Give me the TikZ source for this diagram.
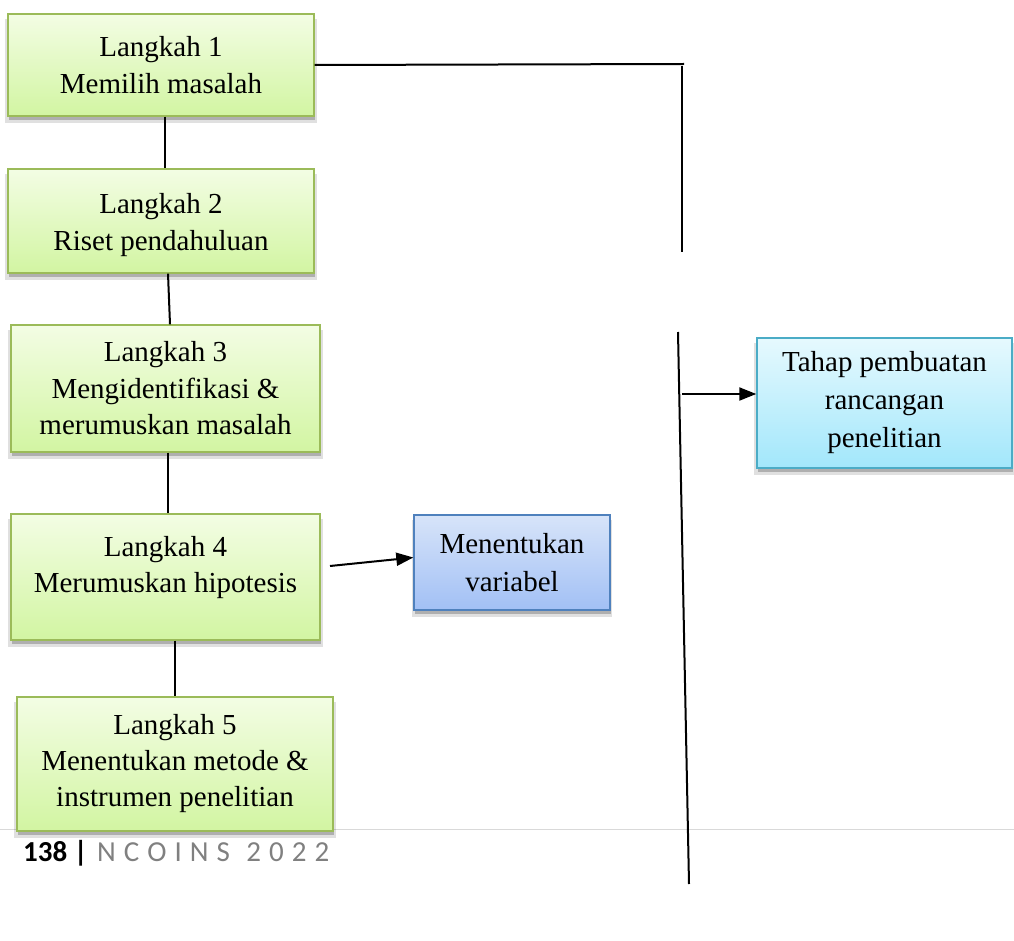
\documentclass[tikz,border=0pt]{standalone}
\usepackage{fontspec}
\setmainfont{Liberation Serif}
\newfontfamily\footfont{Carlito}
\usetikzlibrary{shadows,arrows.meta}
\definecolor{gtop}{HTML}{F3FDE4}
\definecolor{gbot}{HTML}{D2F5A2}
\definecolor{gedge}{HTML}{9BBB59}
\definecolor{btop}{HTML}{D7E4F9}
\definecolor{bbot}{HTML}{A2C0F5}
\definecolor{bedge}{HTML}{4F81BD}
\definecolor{ctop}{HTML}{E6F9FE}
\definecolor{cbot}{HTML}{A2E7FB}
\definecolor{cedge}{HTML}{4BACC6}
\definecolor{footgray}{HTML}{808080}
\definecolor{footline}{HTML}{D9D9D9}
\tikzset{
  boxbase/.style={rectangle, line width=1.4pt, align=center, inner sep=2pt,
    font=\fontsize{29}{36.5}\selectfont,
    drop shadow={shadow xshift=0pt, shadow yshift=-6pt, shadow scale=1.02, opacity=.12, fill=black},
    drop shadow={shadow xshift=1pt, shadow yshift=-4pt, opacity=.22, fill=black}},
  greenbox/.style={boxbase, draw=gedge, top color=gtop, bottom color=gbot},
  bluebox/.style={boxbase, draw=bedge, top color=btop, bottom color=bbot},
  cyanbox/.style={boxbase, draw=cedge, top color=ctop, bottom color=cbot},
  conn/.style={line width=2pt, black},
  arr/.style={conn, -{Triangle[length=17pt,width=13pt]}}
}
\begin{document}
\begin{tikzpicture}[x=1pt,y=-1pt]
\useasboundingbox (0,0) rectangle (1014,941);
% footer line
\coordinate (fl1) at (0,829);
\coordinate (fl2) at (1014,829);
\draw[footline, line width=1pt] (fl1) -- (fl2);

\node[greenbox, minimum width=306pt, minimum height=102pt] (b1) at (161,65) {Langkah 1\\Memilih masalah};
\node[greenbox, minimum width=306pt, minimum height=104pt] (b2) at (161,221) {\raisebox{-10pt}[0pt][0pt]{\begin{tabular}{@{}c@{}}Langkah 2\\Riset pendahuluan\end{tabular}}};
\node[greenbox, minimum width=309pt, minimum height=127pt] (b3) at (165.5,388.5) {Langkah 3\\Mengidentifikasi \&\\merumuskan masalah};
\node[greenbox, minimum width=309pt, minimum height=126pt] (b4) at (165.5,577) {\raisebox{3.5pt}[0pt][0pt]{\begin{tabular}{@{}c@{}}Langkah 4\\Merumuskan hipotesis\end{tabular}}};
\node[greenbox, minimum width=316pt, minimum height=134pt, font=\fontsize{29}{36}\selectfont] (b5) at (175,764) {Langkah 5\\Menentukan metode \&\\instrumen penelitian};
\node[bluebox, minimum width=196pt, minimum height=95pt, font=\fontsize{29}{37.5}\selectfont] (var) at (512,562.5) {Menentukan\\variabel};
\node[cyanbox, minimum width=255pt, minimum height=130pt, font=\fontsize{29}{38}\selectfont] (tahap) at (884.5,403) {Tahap pembuatan\\rancangan\\penelitian};

% connectors
\coordinate (c1) at (684,64);
\coordinate (c2) at (682,66);
\coordinate (c3) at (682,252);
\coordinate (l1) at (678,332);
\coordinate (l2) at (689,884);
\coordinate (a1) at (330,566);
\coordinate (a2) at (682,394);
\draw[conn] (b1.east) -- (c1);
\draw[conn] (c2) -- (c3);
\draw[conn] ([xshift=4pt]b1.south) -- ([xshift=4pt]b2.north);
\draw[conn] ([xshift=7pt]b2.south) -- ([xshift=4.5pt]b3.north);
\draw[conn] ([xshift=2.5pt]b3.south) -- ([xshift=2.5pt]b4.north);
\draw[conn] ([xshift=9.5pt]b4.south) -- (b5.north);
\draw[arr] (a1) -- ([yshift=5pt]var.west);
\draw[conn] (l1) -- (l2);
\draw[arr] (a2) -- ([yshift=9pt]tahap.west);

% footer text
\node[anchor=base west, inner sep=0pt, font=\footfont\bfseries\fontsize{29}{32}\selectfont] (f1) at (23,861) {138 |};
\node[anchor=base west, inner sep=0pt, text=footgray, font=\footfont\fontsize{29}{32}\selectfont] (f2) at (97,861)
  {N\kern8pt C\kern8pt O\kern8pt I\kern8pt N\kern8pt S\kern8pt\ \kern2pt 2\kern8pt 0\kern8pt 2\kern8pt 2};
\end{tikzpicture}
\end{document}
